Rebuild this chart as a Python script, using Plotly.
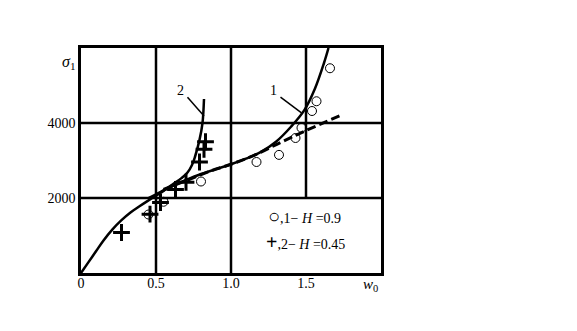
import plotly.graph_objects as go

# Curve 2 (solid, H=0.45 theory)
c2_x = [0, 0.05, 0.1, 0.15, 0.21, 0.27, 0.33, 0.39, 0.44, 0.5, 0.55, 0.61, 0.67, 0.71, 0.74, 0.76, 0.79, 0.81, 0.82]
c2_y = [0, 290, 580, 870, 1165, 1410, 1615, 1780, 1910, 2060, 2190, 2360, 2530, 2680, 2880, 3100, 3550, 4000, 4640]

# Curve 1 (solid, H=0.9 theory)
c1_x = [0.45, 0.5, 0.6, 0.7, 0.8, 0.9, 1.0, 1.1, 1.2, 1.3, 1.4, 1.49, 1.56, 1.62, 1.65]
c1_y = [2000, 2100, 2300, 2480, 2640, 2770, 2900, 3050, 3230, 3500, 3900, 4350, 4920, 5600, 6000]

# Dashed curve
cd_x = [0.55, 0.7, 0.85, 1.0, 1.15, 1.33, 1.5, 1.74]
cd_y = [2230, 2460, 2700, 2900, 3130, 3480, 3800, 4220]

# Experimental points, series 1 (circles, H=0.9)
p1_x = [0.45, 0.55, 0.80, 1.17, 1.32, 1.43, 1.47, 1.54, 1.57, 1.66]
p1_y = [1560, 1900, 2440, 2960, 3150, 3600, 3870, 4320, 4580, 5460]

# Experimental points, series 2 (crosses, H=0.45)
p2_x = [0.27, 0.46, 0.53, 0.63, 0.70, 0.79, 0.82, 0.83]
p2_y = [1080, 1570, 1880, 2230, 2420, 2960, 3300, 3500]

x_ticks = [0, 0.5, 1.0, 1.5]
x_ticktext = ["0", "0.5", "1.0", "1.5"]
y_ticks = [2000, 4000]
y_ticktext = ["2000", "4000"]

FONT = "Liberation Serif, Times New Roman, serif"
LW = 2.5

fig = go.Figure()
fig.add_trace(go.Scatter(x=c2_x, y=c2_y, mode="lines", line=dict(color="black", width=LW, shape="spline"), showlegend=False))
fig.add_trace(go.Scatter(x=c1_x, y=c1_y, mode="lines", line=dict(color="black", width=LW, shape="spline"), showlegend=False))
fig.add_trace(go.Scatter(x=cd_x, y=cd_y, mode="lines", line=dict(color="black", width=3, dash="9px,4px", shape="spline"), showlegend=False))
fig.add_trace(go.Scatter(x=p1_x, y=p1_y, mode="markers",
                         marker=dict(symbol="circle-open", size=9, color="black", line=dict(width=1, color="black")),
                         showlegend=False))
fig.add_trace(go.Scatter(x=p2_x, y=p2_y, mode="markers",
                         marker=dict(symbol="cross-thin", size=12, color="black", line=dict(width=3, color="black")),
                         showlegend=False))

shapes = []
gl = dict(color="black", width=LW)
for gx in [0.5, 1.0]:
    shapes.append(dict(type="line", xref="x", yref="y", x0=gx, x1=gx, y0=0, y1=6000, line=gl, layer="below"))
shapes.append(dict(type="line", xref="x", yref="y", x0=1.5, x1=1.5, y0=2000, y1=6000, line=gl, layer="below"))
for gy in [2000, 4000]:
    shapes.append(dict(type="line", xref="x", yref="y", x0=0, x1=2, y0=gy, y1=gy, line=gl, layer="below"))
# leader lines for curve labels
shapes.append(dict(type="line", xref="x", yref="y", x0=0.71, y0=4690, x1=0.82, y1=4190, line=dict(color="black", width=1.5)))
shapes.append(dict(type="line", xref="x", yref="y", x0=1.33, y0=4690, x1=1.47, y1=4270, line=dict(color="black", width=1.5)))

annotations = [
    dict(x=0.66, y=4870, xref="x", yref="y", text="2", showarrow=False, font=dict(size=14, family=FONT)),
    dict(x=1.28, y=4870, xref="x", yref="y", text="1", showarrow=False, font=dict(size=14, family=FONT)),
    dict(x=1.235, y=1510, xref="x", yref="y", xanchor="left",
         text="<span style='font-size:20px'>○</span>,1− <i>H</i> =0.9", showarrow=False,
         font=dict(size=14, family=FONT)),
    dict(x=1.22, y=820, xref="x", yref="y", xanchor="left",
         text="<span style='font-size:20px'><b>+</b></span>,2− <i>H</i> =0.45", showarrow=False,
         font=dict(size=14, family=FONT)),
    dict(x=1.93, y=-0.005, xref="x", yref="paper", yanchor="top", text="<i>w</i><sub>0</sub>", showarrow=False,
         font=dict(size=15, family=FONT)),
    dict(x=-0.015, y=0.985, xref="paper", yref="paper", xanchor="right", text="<i>σ</i><sub>1</sub>", showarrow=False,
         font=dict(size=16, family=FONT)),
]

fig.update_layout(
    width=577, height=331,
    margin=dict(l=81, r=196, t=48, b=58),
    paper_bgcolor="white", plot_bgcolor="white",
    shapes=shapes, annotations=annotations,
    font=dict(family=FONT, size=14, color="black"),
)
fig.update_xaxes(range=[0, 2], tickvals=x_ticks, ticktext=x_ticktext, showgrid=False, zeroline=False,
                 showline=True, mirror=True, linecolor="black", linewidth=LW, ticks="", ticklen=0,
                 ticklabelstandoff=-5)
fig.update_yaxes(range=[0, 6000], tickvals=y_ticks, ticktext=y_ticktext, showgrid=False, zeroline=False,
                 showline=True, mirror=True, linecolor="black", linewidth=LW, ticks="", ticklen=0)

fig.write_html("out.html")
